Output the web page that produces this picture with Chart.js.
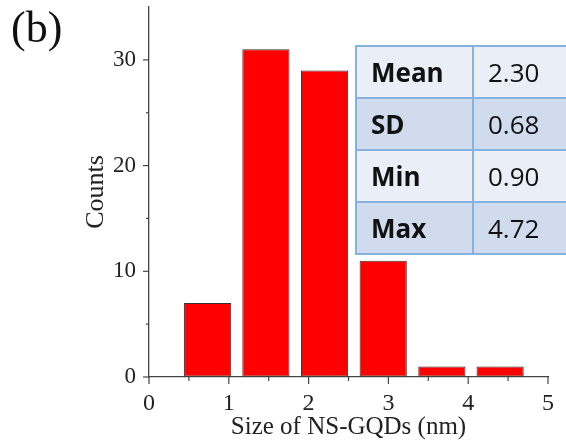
<!DOCTYPE html>
<html>
<head>
<meta charset="utf-8">
<script src="https://cdn.jsdelivr.net/npm/chart.js@4.4.0/dist/chart.umd.min.js"></script>
<style>
  html, body { margin:0; padding:0; background:#fff; overflow:hidden; }
  #wrap { position:relative; width:566px; height:444px; overflow:hidden; }
  #c { position:absolute; left:0; top:0; }
  #lbl { position:absolute; left:11px; top:2px; font-family:"Liberation Serif", serif; font-size:44px; color:#111; line-height:1.2; }
  #stats { position:absolute; left:355px; top:45px; width:260px; table-layout:fixed; border-collapse:collapse; font-family:"Open Sans", sans-serif; font-size:26px; color:#111; }
  #stats td { border:2px solid #86b2e0; height:52px; padding:0 0 0 14px; box-sizing:border-box; white-space:nowrap; overflow:hidden; }
  #stats col.k { width:117px; }
  #stats col.v { width:143px; }
  #stats td.k { font-weight:bold; }
  #stats tr:nth-of-type(odd) td { background:#e9eef7; }
  #stats tr:nth-of-type(even) td { background:#d0dcee; }
</style>
</head>
<body>
<div id="wrap">
  <canvas id="c" width="566" height="444"></canvas>
  <div id="lbl">(b)</div>
  <table id="stats"><colgroup><col class="k"><col class="v"></colgroup></table>
</div>
<script>
// ---- data ----
const binCenters = [0.735, 1.465, 2.2, 2.935, 3.67, 4.4];
const counts = [7, 31, 29, 11, 1, 1];
const xMajorTicks = [0, 1, 2, 3, 4, 5];
const xMinorTicks = [0.5, 1.5, 2.5, 3.5, 4.5];
const yMajorTicks = [0, 10, 20, 30];
const yMinorTicks = [5, 15, 25];
const statNames = ["Mean", "SD", "Min", "Max"];
const statValues = ["2.30", "0.68", "0.90", "4.72"];

// ---- table ----
const tbl = document.getElementById('stats');
const tbody = document.createElement('tbody');
tbl.appendChild(tbody);
statNames.forEach((n, i) => {
  const tr = document.createElement('tr');
  const a = document.createElement('td'); a.className = 'k'; a.textContent = n;
  const b = document.createElement('td'); b.className = 'v'; b.textContent = statValues[i];
  tr.appendChild(a); tr.appendChild(b); tbody.appendChild(tr);
});

const axisColor = '#444';
const tickPlugin = {
  id: 'customTicks',
  afterDraw(chart) {
    const { ctx, scales: { x, y } } = chart;
    ctx.save();
    ctx.strokeStyle = axisColor;
    ctx.lineWidth = 1.2;
    const xb = y.getPixelForValue(0);
    const yl = x.getPixelForValue(0);
    const line = (x1, y1, x2, y2) => { ctx.beginPath(); ctx.moveTo(x1, y1); ctx.lineTo(x2, y2); ctx.stroke(); };
    xMajorTicks.forEach(v => { const p = x.getPixelForValue(v); line(p, xb, p, xb + 7); });
    xMinorTicks.forEach(v => { const p = x.getPixelForValue(v); line(p, xb, p, xb + 4); });
    yMajorTicks.forEach(v => { const p = y.getPixelForValue(v); line(yl, p, yl - 6, p); });
    yMinorTicks.forEach(v => { const p = y.getPixelForValue(v); line(yl, p, yl - 3, p); });
    ctx.restore();
  }
};

new Chart(document.getElementById('c'), {
  type: 'bar',
  data: {
    datasets: [{
      data: binCenters.map((c, i) => ({ x: c, y: counts[i] })),
      backgroundColor: '#ff0000',
      borderColor: '#333',
      borderWidth: 1,
      borderSkipped: false,
      categoryPercentage: 1,
      barPercentage: 0.81
    }]
  },
  options: {
    responsive: false,
    animation: false,
    events: [],
    layout: { padding: { left: 77, top: 7, right: 18, bottom: 0 } },
    plugins: { legend: { display: false }, tooltip: { enabled: false } },
    scales: {
      x: {
        type: 'linear', min: 0, max: 5, offset: false,
        afterFit(s) { s.height = 67; s.paddingLeft = 0; s.paddingRight = 0; },
        ticks: { stepSize: 1, color: '#222', padding: 12, maxRotation: 0,
                 font: { family: 'Liberation Serif', size: 24 } },
        grid: { display: true, drawOnChartArea: false, drawTicks: false, offset: false },
        border: { display: true, color: axisColor, width: 1.3 },
        title: { display: true, text: 'Size of NS-GQDs (nm)', color: '#222',
                 font: { family: 'Liberation Serif', size: 25 }, padding: { top: 0, bottom: 2 } }
      },
      y: {
        min: 0, max: 35,
        afterFit(s) { s.width = 72; s.paddingTop = 0; s.paddingBottom = 0; },
        afterBuildTicks(s) { s.ticks = yMajorTicks.map(v => ({ value: v })); },
        ticks: { color: '#222', padding: 13,
                 font: { family: 'Liberation Serif', size: 23 } },
        grid: { display: true, drawOnChartArea: false, drawTicks: false },
        border: { display: true, color: axisColor, width: 1.3 },
        title: { display: true, text: 'Counts', color: '#222',
                 font: { family: 'Liberation Serif', size: 26 }, padding: { top: 4, bottom: 4 } }
      }
    }
  },
  plugins: [tickPlugin]
});
</script>
</body>
</html>
